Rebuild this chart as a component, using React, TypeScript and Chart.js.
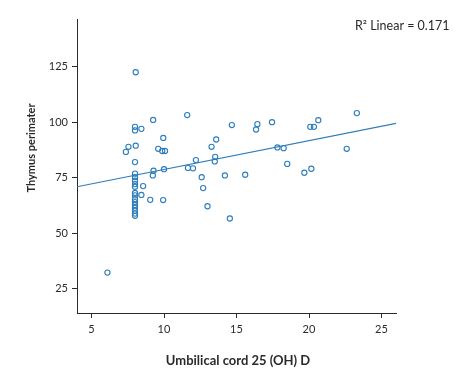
import React, { useEffect, useRef } from "react";
import { Chart, registerables } from "chart.js";

Chart.register(...registerables);

// Umbilical cord 25 (OH) D values
const xValues: number[] = [
  6.1, 8.05, 9.25, 11.6, 8.0, 8.0, 8.44, 7.55, 7.37, 8.05,
  9.95, 9.6, 9.88, 10.07, 8.0, 12.2, 11.65, 12.0, 9.28, 10.0,
  9.23, 8.56, 8.44, 9.05, 9.94, 14.68, 16.44, 16.35, 13.6, 13.28,
  13.53, 13.5, 12.6, 12.7, 14.2, 15.6, 13.0, 14.54, 17.45, 20.09,
  20.34, 20.64, 23.3, 17.82, 18.25, 18.5, 22.6, 19.68, 20.16,
  8.0, 8.0, 8.0, 8.0, 8.0, 8.0, 8.0, 8.0, 8.0, 8.0, 8.0, 8.0, 8.0, 8.0,
];
// Thymus perimater values
const yValues: number[] = [
  32.2, 122.5, 101.0, 103.2, 97.9, 96.3, 97.0, 88.9, 86.6, 89.4,
  92.9, 88.0, 87.0, 87.0, 82.0, 82.9, 79.4, 79.2, 78.1, 78.8,
  76.0, 71.2, 67.2, 65.0, 64.9, 98.7, 99.1, 96.7, 92.2, 88.9,
  84.4, 82.3, 75.2, 70.3, 76.0, 76.3, 62.1, 56.6, 100.0, 97.9,
  97.9, 100.9, 104.1, 88.6, 88.3, 81.2, 88.0, 77.2, 79.0,
  76.8, 75.2, 73.6, 72.1, 70.9, 68.1, 67.0, 65.3, 64.0, 62.7, 61.4, 60.1, 58.8, 57.8,
];

// Fitted line
const fitX: number[] = [4, 26];
const fitY: number[] = [70.9, 99.5];

const xTicks: number[] = [5, 10, 15, 20, 25];
const yTicks: number[] = [25, 50, 75, 100, 125];

const xTitle = "Umbilical cord 25 (OH) D";
const yTitle = "Thymus perimater";
const r2Label = "R\u00B2 Linear = 0.171";

const BLUE = "#2e7db9";
const INK = "#2a2a2a";
const FONT = "Lato, 'Open Sans', sans-serif";

export default function App() {
  const ref = useRef<HTMLCanvasElement | null>(null);

  useEffect(() => {
    const canvas = ref.current;
    if (!canvas) return;

    const textPlugin = {
      id: "texts",
      afterDraw(chart: any) {
        const ctx = chart.ctx;
        ctx.save();
        ctx.fillStyle = INK;
        ctx.font = `bold 13px ${FONT}`;
        ctx.textAlign = "center";
        ctx.textBaseline = "middle";
        ctx.fillText(xTitle, 238, 361);
        ctx.save();
        ctx.font = `bold 11px ${FONT}`;
        ctx.translate(31.5, 148);
        ctx.rotate(-Math.PI / 2);
        ctx.fillText(yTitle, 0, 0);
        ctx.restore();
        ctx.font = `12.5px ${FONT}`;
        ctx.textAlign = "left";
        ctx.fillText(r2Label, 355, 26);
        ctx.restore();
      },
    };

    const chart = new Chart(canvas, {
      type: "scatter",
      data: {
        datasets: [
          {
            type: "line",
            data: fitX.map((x, i) => ({ x, y: fitY[i] })),
            borderColor: BLUE,
            borderWidth: 1.2,
            pointRadius: 0,
            fill: false,
          } as any,
          {
            type: "scatter",
            data: xValues.map((x, i) => ({ x, y: yValues[i] })),
            pointStyle: "circle",
            pointRadius: 2.6,
            pointBorderWidth: 1.1,
            borderColor: BLUE,
            backgroundColor: "rgba(255,255,255,0)",
          } as any,
        ],
      },
      options: {
        responsive: false,
        animation: false,
        layout: { padding: { top: 19, right: 71, left: 0, bottom: 0 } },
        plugins: { legend: { display: false }, tooltip: { enabled: false } },
        scales: {
          x: {
            type: "linear",
            min: 4,
            max: 26,
            afterFit: (s: any) => { s.height = 60; },
            afterBuildTicks: (s: any) => { s.ticks = xTicks.map((v) => ({ value: v })); },
            grid: { display: true, drawOnChartArea: false, drawTicks: true, tickLength: 5, color: INK, lineWidth: 1 },
            border: { display: true, color: INK, width: 1 },
            ticks: { color: INK, padding: 5, font: { family: FONT, size: 11 }, maxRotation: 0 },
          },
          y: {
            type: "linear",
            min: 14,
            max: 146.5,
            afterFit: (s: any) => { s.width = 77; },
            afterBuildTicks: (s: any) => { s.ticks = yTicks.map((v) => ({ value: v })); },
            grid: { display: true, drawOnChartArea: false, drawTicks: true, tickLength: 5, color: INK, lineWidth: 1 },
            border: { display: true, color: INK, width: 1 },
            ticks: { color: INK, padding: 4, font: { family: FONT, size: 11 } },
          },
        },
      },
      plugins: [textPlugin],
    } as any);

    return () => chart.destroy();
  }, []);

  return (
    <div style={{ position: "fixed", left: 0, top: 0, width: 467, height: 373, background: "#fff" }}>
      <canvas ref={ref} width={467} height={373} style={{ display: "block" }} />
    </div>
  );
}
